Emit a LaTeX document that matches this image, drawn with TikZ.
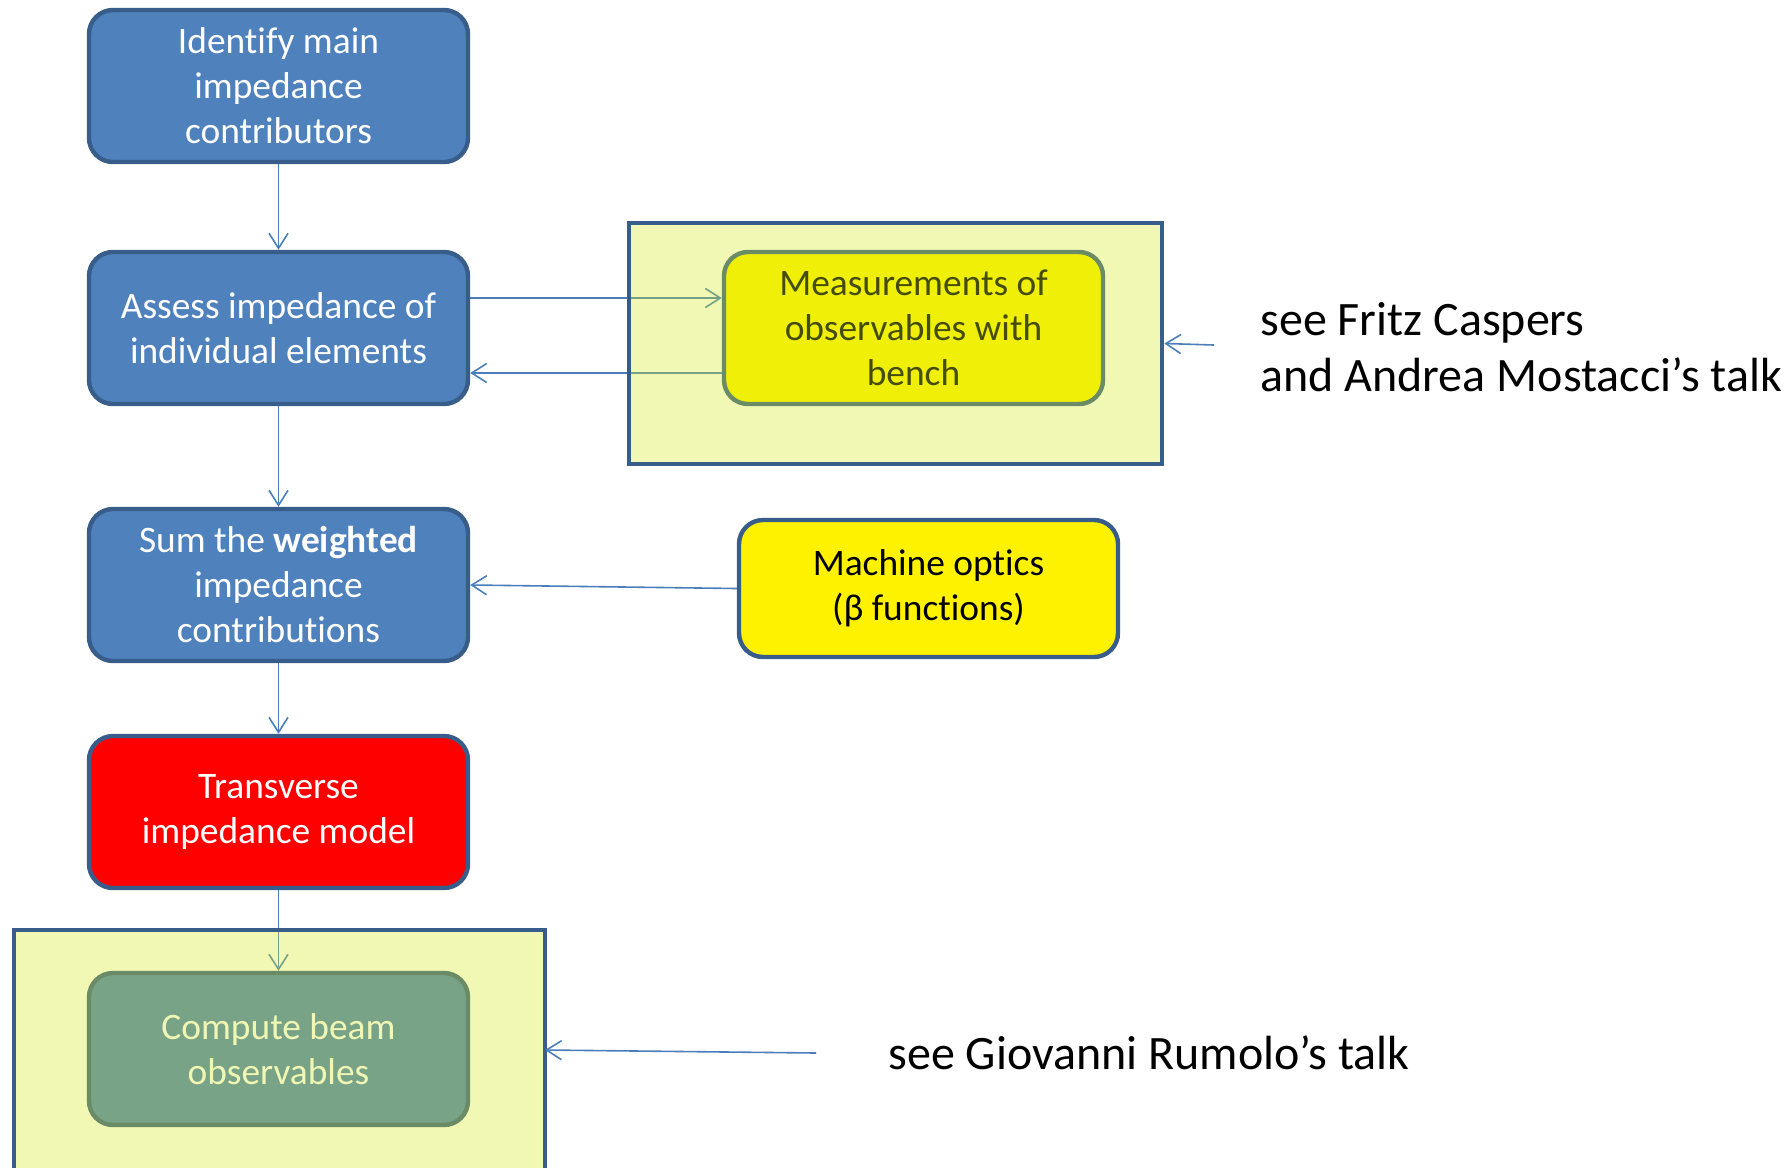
\documentclass[tikz,border=0pt]{standalone}
\usepackage{fontspec}
\setmainfont{Carlito}[Ligatures=NoCommon]
\usetikzlibrary{arrows.meta,calc}
\definecolor{boxblue}{RGB}{79,129,189}
\definecolor{edgeblue}{RGB}{56,93,138}
\definecolor{linkblue}{RGB}{74,126,187}
\definecolor{haze}{RGB}{209,233,27}
\begin{document}
\begin{tikzpicture}[x=0.5pt,y=-0.5pt,
  stage/.style={draw=edgeblue, line width=2.2pt, rounded corners=12pt,
    minimum width=189.5pt, minimum height=76pt, align=center,
    inner sep=0pt, font=\fontsize{18.7}{22.5}\selectfont},
  bluebox/.style={stage, fill=boxblue, text=white},
  redbox/.style={stage, fill=red, text=white},
  yellowbox/.style={stage, fill=yellow, text=black},
  arr/.style={draw=linkblue, line width=0.8pt,
    -{Straight Barb[length=7.5pt,width=9.5pt]}},
  note/.style={anchor=west, align=left, inner sep=0pt,
    font=\fontsize{24}{28}\selectfont},
  hazefill/.style={fill=haze, fill opacity=0.33, draw=none},
  hazeedge/.style={draw=edgeblue, line width=2.3pt}
]
\clip (0,0) rectangle (1791,1167);

% main chain of steps
\node[bluebox] (identify) at (278.5,86) {Identify main\\impedance\\contributors};
\node[bluebox] (assess) at (278.5,328) {Assess impedance of\\individual elements};
\node[bluebox] (sum) at (278.5,585) {Sum the \textbf{weighted}\\impedance\\contributions};
\node[redbox] (model) at (278.5,812) {Transverse\\impedance model};
\node[bluebox] (compute) at (278.5,1049) {Compute beam\\observables};

% side inputs
\node[yellowbox] (bench) at (913.5,328) {Measurements of\\observables with\\bench};
\node[yellowbox, minimum height=68.5pt] (optics) at (928.5,588.5) {Machine optics\\(β functions)};

% connectors
\draw[arr] (identify) -- (assess);
\draw[arr] (assess) -- (sum);
\draw[arr] (sum) -- (model);
\draw[arr] (model) -- (compute);
\draw[arr] ([yshift=15pt]assess.east) -- ([yshift=15pt]bench.west);
\draw[arr] ([yshift=-22.5pt]bench.west) -- ([yshift=-22.5pt]assess.east);
\draw[arr] (optics.west) -- (sum.east);

% translucent highlight frames
\path[hazefill] (629,223) rectangle (1162,464);
\path[hazefill] (14,930) rectangle (545,1200);
\node[hazeedge, minimum width=266.5pt, minimum height=120.5pt, inner sep=0pt]
  (benchframe) at (895.5,343.5) {};
\draw[hazeedge] (14,1200) |- (545,930) -- (545,1200);
\coordinate (computeframe) at (545,1050);

% references to talks
\node[note] (casper) at (1260,347) {see Fritz Caspers\\and Andrea Mostacci’s talk};
\node[note] (rumolo) at (888,1053) {see Giovanni Rumolo’s talk};
\coordinate (casperfoot) at (1214,345);
\coordinate (rumolofoot) at (816,1053);
\draw[arr] (casperfoot) -- (benchframe.east);
\draw[arr] (rumolofoot) -- (computeframe);
\end{tikzpicture}
\end{document}
